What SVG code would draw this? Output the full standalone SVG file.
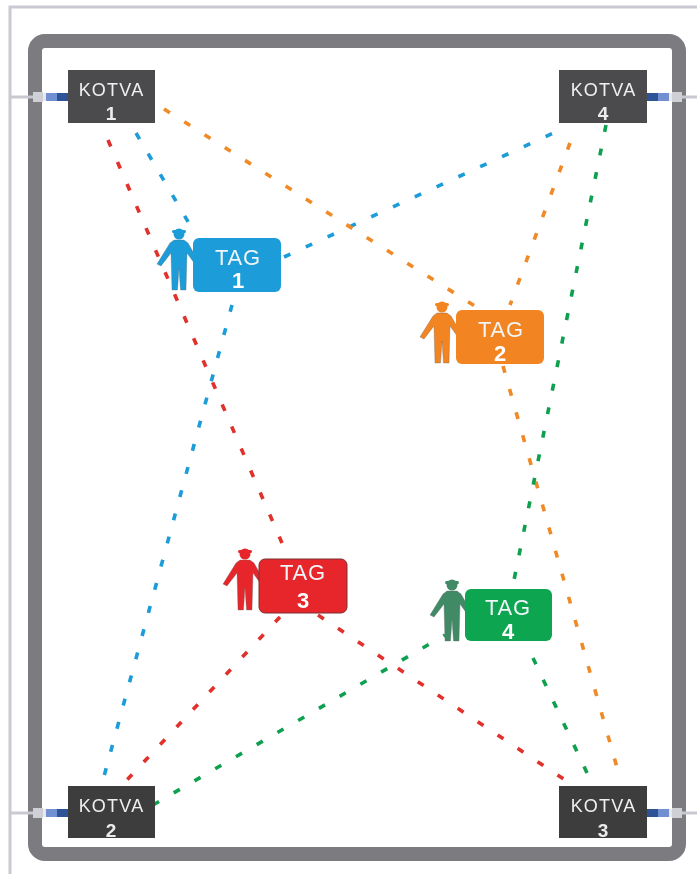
<svg xmlns="http://www.w3.org/2000/svg" width="697" height="874" viewBox="0 0 697 874">
<defs>
<filter id="soft" x="-5%" y="-5%" width="110%" height="110%"><feGaussianBlur stdDeviation="0.6"/></filter>
<g id="person"><circle cx="0" cy="-26" r="5.500"/><rect x="-7" y="-30" width="14" height="3" rx="1.500"/><path d="M-5-20H5L9-17 21 4 18 7 8-7 7 30H1.500L0 8-1.500 30H-7L-8-7-18 6-22 4-9-17Z" stroke="#666" stroke-opacity=".35" stroke-width="1"/></g>
<g id="plug"><rect x="0" y="-5" width="10" height="10" fill="#cfd0d6"/><rect x="10" y="-4" width="3" height="8" fill="#e8e8ee"/><rect x="13" y="-4" width="15" height="8" fill="#6f90d2"/><rect x="24" y="-4" width="11" height="8" fill="#2f5296"/></g>
</defs>
<style>
.k{fill:#4c4c4e}
.kd{fill:#3c3c3e}
.kt{font:18px "Liberation Sans",Arial,sans-serif;fill:#f0f0f0;text-anchor:middle;letter-spacing:1.200px}
.kn{font:bold 19px "Liberation Sans",Arial,sans-serif;fill:#ececec;text-anchor:middle}
.tt{font:22px "Liberation Sans",Arial,sans-serif;fill:#f0f5f8;text-anchor:middle;letter-spacing:.8px}
.tn{font:bold 22px "Liberation Sans",Arial,sans-serif;fill:#fff;text-anchor:middle}
.c{fill:none;stroke-width:3.600;stroke-dasharray:7 17}
.gl{stroke:#c9c9d2;stroke-width:3;fill:none}
</style>
<rect width="697" height="874" fill="#fff"/>
<g filter="url(#soft)">
<g id="frame">
<path class="gl" d="M10 874V7H697"/>
<rect x="35" y="41" width="644" height="813" rx="10" fill="#fff" stroke="#7b7b80" stroke-width="14"/>
<path class="gl" d="M10 97H36M10 813H36M680 97H697M680 813H697"/>
</g>
<g id="connectors">
<g class="c" stroke="#1a9cd8"><path d="M136 133L190 225"/><path d="M284 257L560 130"/><path d="M232 305L103 780"/></g>
<g class="c" stroke="#e0302c"><path d="M108 140L285 550"/><path d="M280 617L125 782"/><path d="M318 615L565 780"/></g>
<g class="c" stroke="#f08a28"><path d="M164 109L478 308"/><path d="M570 143L510 305"/><path d="M503 366L620 778"/></g>
<g class="c" stroke="#10a050"><path d="M606 125L514 580"/><path d="M153 805L445 635"/><path d="M533 658L588 775"/></g>
</g>
<g id="kotva1"><use href="#plug" x="33" y="97"/><rect class="k" x="68" y="70" width="87" height="53"/><text class="kt" x="111.500" y="96">KOTVA</text><text class="kn" x="111" y="120">1</text></g>
<g id="kotva4"><use href="#plug" transform="translate(682 97) scale(-1 1)"/><rect class="k" x="559" y="70" width="88" height="53"/><text class="kt" x="603.500" y="96">KOTVA</text><text class="kn" x="603" y="120">4</text></g>
<g id="kotva2"><use href="#plug" x="33" y="813"/><rect class="kd" x="68" y="786" width="87" height="52"/><text class="kt" x="111.500" y="812">KOTVA</text><text class="kn" x="111" y="837">2</text></g>
<g id="kotva3"><use href="#plug" transform="translate(682 813) scale(-1 1)"/><rect class="kd" x="559" y="786" width="88" height="52"/><text class="kt" x="603.500" y="812">KOTVA</text><text class="kn" x="603" y="837">3</text></g>
<g id="tag1" fill="#1a9cd8"><use href="#person" x="179" y="260"/><rect x="193" y="238" width="88" height="54" rx="6"/><text class="tt" x="238" y="265">TAG</text><text class="tn" x="238" y="288">1</text></g>
<g id="tag2" fill="#f28420"><use href="#person" x="442" y="333"/><rect x="456" y="310" width="88" height="54" rx="6"/><text class="tt" x="501" y="337">TAG</text><text class="tn" x="500" y="361">2</text></g>
<g id="tag3" fill="#e6252a"><use href="#person" x="245" y="580"/><rect x="259" y="559" width="88" height="54" rx="6" stroke="#7a3030" stroke-width="1"/><text class="tt" x="303" y="580">TAG</text><text class="tn" x="303" y="608">3</text></g>
<g id="tag4"><use href="#person" x="452" y="611" fill="#3f8a66"/><rect x="465" y="589" width="87" height="52" rx="6" fill="#0ea550"/><text class="tt" x="508" y="615">TAG</text><text class="tn" x="508" y="639">4</text></g>
</g>
</svg>
